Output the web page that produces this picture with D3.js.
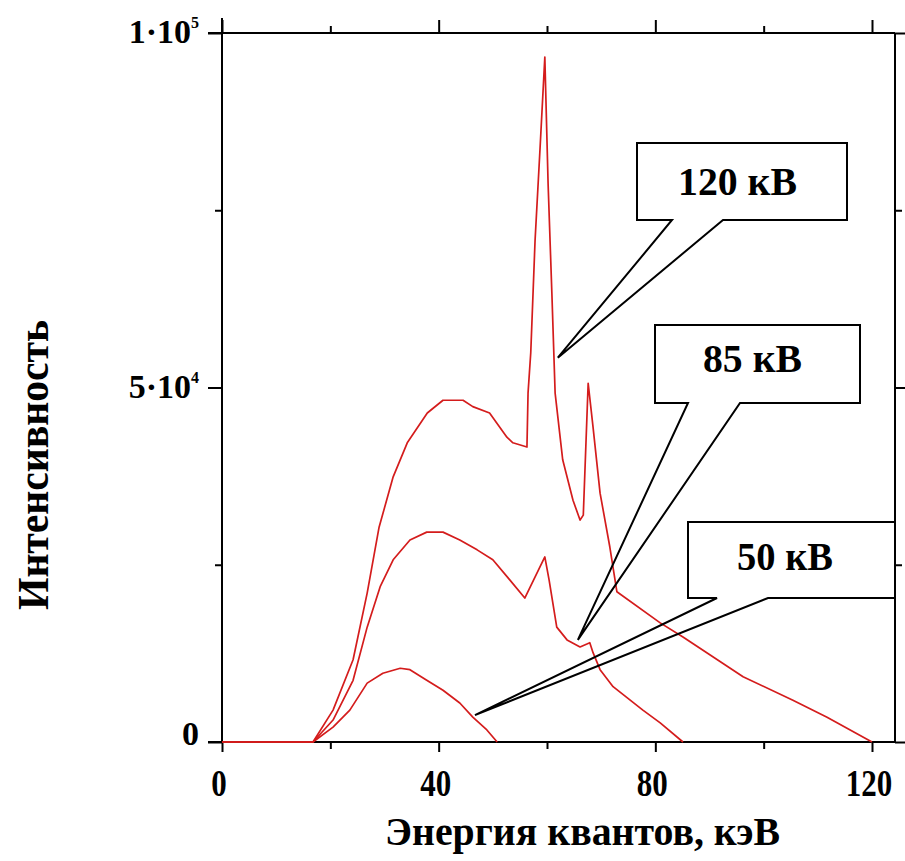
<!DOCTYPE html>
<html>
<head>
<meta charset="utf-8">
<script src="https://cdn.jsdelivr.net/npm/d3@7"></script>
<style>
  body { margin: 0; background: #fff; }
  text { font-family: "Liberation Serif", "Times New Roman", serif; font-weight: bold; fill: #000; }
</style>
</head>
<body>
<script>
// spectrum data (energy in keV, intensity)
var energy120 = [0, 16.8, 20.5, 24.2, 26.8, 29.0, 31.6, 34.2, 37.9, 40.8, 44.5, 46.3, 49.4, 52.6, 53.7, 56.3,
                 56.5, 57.0, 57.8, 58.7, 59.6, 60.2, 60.9, 61.5, 62.9, 64.8, 66.1, 66.7, 67.6, 68.5, 69.8,
                 71.6, 72.9, 80.9, 85.1, 96.2, 105.4, 111.7, 120];
var intens120 = [0, 0, 4500, 11600, 21000, 30300, 37400, 42200, 46400, 48200, 48200, 47300, 46400, 43000, 42200, 41600,
                 49200, 54900, 70800, 83500, 96600, 78800, 63300, 49200, 39800, 34100, 31300, 32000, 50600, 44400, 35100,
                 27500, 21200, 16800, 14800, 9200, 5900, 3500, 0];

var energy85 = [0, 16.8, 20.5, 24.2, 26.8, 29.2, 31.6, 34.7, 37.8, 40.8, 43.9, 47.1, 50.0, 53.2, 55.9,
                59.6, 60.4, 61.8, 63.7, 66.1, 67.9, 68.5, 69.8, 72.2, 77.7, 80.9, 85.1];
var intens85 = [0, 0, 3100, 8700, 16200, 21900, 25700, 28500, 29600, 29600, 28500, 27100, 25700, 22800, 20300,
                26100, 22800, 16200, 14400, 13400, 14000, 12600, 10200, 7800, 4500, 2700, 0];

var energy50 = [0, 16.8, 20.5, 23.6, 26.8, 29.7, 32.9, 34.7, 37.8, 40.8, 43.9, 46.3, 48.9, 50.8];
var intens50 = [0, 0, 2100, 4500, 8300, 9700, 10400, 10200, 8700, 7300, 5500, 3500, 1700, 0];

// axis ticks
var xMajor = [0, 40, 80, 120];
var xMinor = [20, 60, 100];
var yMajor = [0, 50000, 100000];
var yMinor = [25000, 75000];
var yLabelBase = ["0", "5·10", "1·10"];
var yLabelExp = ["", "4", "5"];

// callouts: label and the curve point it points at
var calloutText = ["120 кВ", "85 кВ", "50 кВ"];
var calloutTipE = [62.0, 65.7, 46.7];
var calloutTipI = [54200, 14400, 3800];

var W = 905, H = 861;
var svg = d3.select("body").append("svg")
    .attr("width", W)
    .attr("height", H);

svg.append("rect").attr("width", W).attr("height", H).attr("fill", "#fff");

var x = d3.scaleLinear().domain([0, 120]).range([222, 872]);
var y = d3.scaleLinear().domain([0, 100000]).range([742, 33]);
var xRight = 895, yTop = y(100000), yBot = y(0), xLeft = x(0);

// frame lines
var frame = svg.append("g").attr("stroke", "#000").attr("stroke-width", 2);
frame.append("line").attr("x1", xLeft).attr("x2", xLeft).attr("y1", 18).attr("y2", yBot);
frame.append("line").attr("x1", 208).attr("x2", xRight).attr("y1", yTop).attr("y2", yTop);
frame.append("line").attr("x1", 208).attr("x2", xRight).attr("y1", yBot).attr("y2", yBot);
frame.append("line").attr("x1", xRight).attr("x2", xRight).attr("y1", yTop).attr("y2", yBot);

function tickAxis(axis, tr) {
    var g = svg.append("g").attr("transform", tr).call(axis);
    g.select(".domain").remove();
    g.selectAll(".tick line").attr("stroke", "#000").attr("stroke-width", 2);
    return g;
}

// bottom
tickAxis(d3.axisBottom(x).tickValues(xMajor).tickSize(10).tickFormat(""), "translate(0," + yBot + ")");
tickAxis(d3.axisBottom(x).tickValues(xMinor).tickSize(7).tickFormat(""), "translate(0," + yBot + ")");
// top
tickAxis(d3.axisTop(x).tickValues(xMajor).tickSize(13).tickFormat(""), "translate(0," + yTop + ")");
tickAxis(d3.axisTop(x).tickValues(xMinor).tickSize(7).tickFormat(""), "translate(0," + yTop + ")");
// left
tickAxis(d3.axisLeft(y).tickValues(yMajor).tickSize(14).tickFormat(""), "translate(" + xLeft + ",0)");
tickAxis(d3.axisLeft(y).tickValues(yMinor).tickSize(7).tickFormat(""), "translate(" + xLeft + ",0)");
// right
tickAxis(d3.axisRight(y).tickValues(yMajor).tickSize(10).tickFormat(""), "translate(" + xRight + ",0)");
tickAxis(d3.axisRight(y).tickValues(yMinor).tickSize(7).tickFormat(""), "translate(" + xRight + ",0)");

// x tick labels (narrow, tall digits)
svg.selectAll(".xlab")
    .data(xMajor)
    .enter().append("text")
    .attr("class", "xlab")
    .attr("x", function(d) { return x(d) - 3; })
    .attr("y", 796)
    .attr("text-anchor", "middle")
    .attr("textLength", function(d) { return String(d).length * 15.5; })
    .attr("lengthAdjust", "spacingAndGlyphs")
    .style("font-size", "38px")
    .text(function(d) { return d; });

// y tick labels with superscript exponent
var yl = svg.selectAll(".ylab")
    .data(yMajor)
    .enter().append("text")
    .attr("class", "ylab")
    .attr("x", 199)
    .attr("y", function(d) { return y(d) + (d === 0 ? 3 : 10); })
    .attr("text-anchor", "end")
    .style("font-size", "34px");
yl.append("tspan").text(function(d, i) { return yLabelBase[i]; });
yl.append("tspan")
    .attr("dy", -15)
    .style("font-size", "16px")
    .text(function(d, i) { return yLabelExp[i]; });

// axis titles
svg.append("text")
    .attr("x", 385)
    .attr("y", 845)
    .attr("textLength", 395)
    .attr("lengthAdjust", "spacingAndGlyphs")
    .style("font-size", "40px")
    .text("Энергия квантов, кэВ");

svg.append("text")
    .attr("transform", "translate(48,610) rotate(-90)")
    .attr("textLength", 290)
    .attr("lengthAdjust", "spacingAndGlyphs")
    .style("font-size", "44px")
    .text("Интенсивность");

// spectra
var line = d3.line()
    .x(function(d) { return x(d[0]); })
    .y(function(d) { return y(d[1]); });

var series = [
    d3.zip(energy120, intens120),
    d3.zip(energy85, intens85),
    d3.zip(energy50, intens50)
];

svg.selectAll(".spec")
    .data(series)
    .enter().append("path")
    .attr("class", "spec")
    .attr("d", line)
    .attr("fill", "none")
    .attr("stroke", "#d41c1c")
    .attr("stroke-width", 1.7)
    .attr("stroke-linejoin", "round");

// callout boxes (box left, top, right, bottom, wedge base left/right)
var boxes = [
    [637, 143, 847, 220, 672, 723],
    [655, 325, 860, 403, 688, 740],
    [688, 522, 895, 598, 717, 768]
];
var textPos = [[678, 195, 119], [703, 372, 99], [737, 570, 96]];

calloutText.forEach(function(label, i) {
    var b = boxes[i];
    var tx = x(calloutTipE[i]), ty = y(calloutTipI[i]);
    var g = svg.append("g");
    var p = d3.path();
    p.moveTo(b[0], b[1]);
    p.lineTo(b[2], b[1]);
    p.lineTo(b[2], b[3]);
    p.lineTo(b[5], b[3]);
    p.lineTo(tx, ty);
    p.lineTo(b[4], b[3]);
    p.lineTo(b[0], b[3]);
    p.closePath();
    g.append("rect")
        .attr("x", b[0]).attr("y", b[1])
        .attr("width", b[2] - b[0]).attr("height", b[3] - b[1])
        .attr("fill", "#fff");
    g.append("path")
        .attr("d", p.toString())
        .attr("fill", "none")
        .attr("stroke", "#000")
        .attr("stroke-width", 2)
        .attr("stroke-linejoin", "miter");
    g.append("text")
        .attr("x", textPos[i][0])
        .attr("y", textPos[i][1])
        .attr("textLength", textPos[i][2])
        .attr("lengthAdjust", "spacingAndGlyphs")
        .style("font-size", "40px")
        .text(label);
});
</script>
</body>
</html>
